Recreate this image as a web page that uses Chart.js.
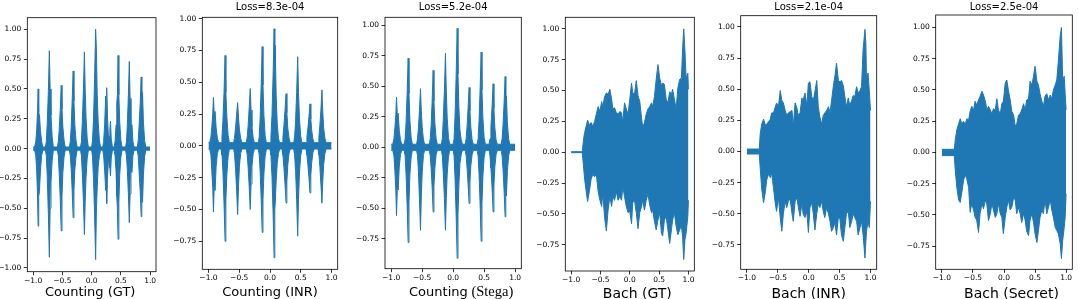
<!DOCTYPE html>
<html>
<head>
<meta charset="utf-8">
<script src="https://cdn.jsdelivr.net/npm/chart.js@4.4.1/dist/chart.umd.min.js"></script>
<style>
  body { margin: 0; background: #fff; width: 1078px; height: 299px; position: relative; overflow: hidden; }
  canvas { position: absolute; top: 0; }
</style>
</head>
<body>
<canvas id="p0"></canvas>
<canvas id="p1"></canvas>
<canvas id="p2"></canvas>
<canvas id="p3"></canvas>
<canvas id="p4"></canvas>
<canvas id="p5"></canvas>
<script>
// tick labels
const xTicks = [-1.0, -0.5, 0.0, 0.5, 1.0];
const yTicksFull = [-1.0, -0.75, -0.5, -0.25, 0.0, 0.25, 0.5, 0.75, 1.0];
const yTicksShort = [-0.75, -0.5, -0.25, 0.0, 0.25, 0.5, 0.75, 1.0];

const titles = [null, 'Loss=8.3e-04', 'Loss=5.2e-04', null, 'Loss=2.1e-04', 'Loss=2.5e-04'];

// waveform envelopes: time, upper edge, lower edge
const countGtX = [-1.00,
  -0.975,-0.955,-0.94,-0.925,-0.915,-0.905,-0.892,-0.875,-0.855,-0.835,
  -0.79,-0.775,-0.76,-0.74,-0.723,-0.71,-0.695,-0.675,-0.655,
  -0.585,-0.57,-0.555,-0.537,-0.52,-0.507,-0.492,-0.472,-0.452,
  -0.38,-0.365,-0.35,-0.333,-0.316,-0.303,-0.288,-0.268,-0.248,
  -0.19,-0.175,-0.16,-0.14,-0.124,-0.111,-0.096,-0.076,-0.056,
  0.0,0.015,0.032,0.05,0.068,0.08,0.095,0.112,0.132,0.152,
  0.19,0.205,0.222,0.24,0.248,0.257,0.27,0.285,0.30,0.312,0.322,0.335,0.355,
  0.385,0.40,0.418,0.43,0.44,0.452,0.465,0.48,0.50,0.52,
  0.58,0.595,0.61,0.628,0.644,0.657,0.672,0.689,0.705,0.725,
  0.78,0.795,0.81,0.83,0.847,0.858,0.87,0.885,0.905,0.925,
  1.00];
const countGtHi = [0.013,
  0.013,0.06,0.15,0.32,0.50,0.30,0.28,0.15,0.06,0.013,
  0.013,0.06,0.20,0.48,0.82,0.50,0.28,0.10,0.013,
  0.013,0.06,0.15,0.32,0.53,0.33,0.18,0.07,0.013,
  0.013,0.06,0.18,0.40,0.65,0.40,0.20,0.07,0.013,
  0.013,0.06,0.22,0.50,0.81,0.50,0.26,0.08,0.013,
  0.013,0.07,0.25,0.58,1.00,0.85,0.45,0.22,0.07,0.013,
  0.013,0.06,0.20,0.44,0.30,0.51,0.28,0.12,0.10,0.16,0.23,0.08,0.013,
  0.013,0.06,0.20,0.38,0.45,0.78,0.45,0.22,0.07,0.013,
  0.013,0.06,0.20,0.45,0.73,0.42,0.18,0.20,0.06,0.013,
  0.013,0.06,0.18,0.38,0.60,0.40,0.47,0.22,0.07,0.013,
  0.013];
const countGtLo = [-0.013,
  -0.013,-0.06,-0.18,-0.40,-0.65,-0.40,-0.36,-0.18,-0.06,-0.013,
  -0.013,-0.06,-0.22,-0.55,-0.91,-0.50,-0.28,-0.10,-0.013,
  -0.013,-0.06,-0.20,-0.42,-0.69,-0.40,-0.20,-0.07,-0.013,
  -0.013,-0.06,-0.17,-0.35,-0.58,-0.35,-0.18,-0.07,-0.013,
  -0.013,-0.06,-0.20,-0.45,-0.72,-0.45,-0.24,-0.08,-0.013,
  -0.013,-0.07,-0.25,-0.55,-0.93,-0.55,-0.32,-0.15,-0.06,-0.013,
  -0.013,-0.06,-0.18,-0.35,-0.30,-0.46,-0.25,-0.12,-0.10,-0.16,-0.23,-0.08,-0.013,
  -0.013,-0.06,-0.20,-0.40,-0.50,-0.76,-0.45,-0.22,-0.07,-0.013,
  -0.013,-0.06,-0.18,-0.38,-0.62,-0.38,-0.18,-0.20,-0.06,-0.013,
  -0.013,-0.06,-0.18,-0.36,-0.57,-0.38,-0.45,-0.22,-0.07,-0.013,
  -0.013];

const countInrX = [-1.00,
  -0.98,-0.96,-0.945,-0.93,-0.919,-0.905,-0.892,-0.875,-0.855,-0.835,
  -0.795,-0.78,-0.765,-0.747,-0.730,-0.717,-0.70,-0.68,-0.66,
  -0.59,-0.575,-0.56,-0.543,-0.526,-0.512,-0.497,-0.477,-0.457,
  -0.385,-0.37,-0.355,-0.338,-0.321,-0.308,-0.293,-0.273,-0.253,
  -0.19,-0.175,-0.16,-0.143,-0.127,-0.114,-0.099,-0.079,-0.059,
  0.0,0.015,0.032,0.05,0.067,0.078,0.085,0.10,0.117,0.137,0.157,
  0.195,0.21,0.226,0.244,0.261,0.274,0.289,0.309,0.329,
  0.385,0.40,0.416,0.433,0.450,0.463,0.478,0.498,0.518,
  0.585,0.60,0.616,0.633,0.650,0.663,0.678,0.698,0.718,
  0.78,0.795,0.81,0.827,0.844,0.857,0.872,0.892,0.912,
  1.00];
const countInrHi = [0.025,
  0.025,0.07,0.15,0.25,0.38,0.24,0.27,0.14,0.06,0.025,
  0.025,0.07,0.20,0.42,0.71,0.42,0.22,0.08,0.025,
  0.025,0.07,0.14,0.24,0.34,0.22,0.13,0.06,0.025,
  0.025,0.07,0.16,0.30,0.45,0.28,0.15,0.06,0.025,
  0.025,0.07,0.22,0.48,0.78,0.48,0.24,0.08,0.025,
  0.025,0.07,0.24,0.55,0.92,0.60,0.79,0.40,0.18,0.06,0.025,
  0.025,0.07,0.16,0.28,0.41,0.26,0.14,0.06,0.025,
  0.025,0.07,0.20,0.42,0.70,0.42,0.22,0.08,0.025,
  0.025,0.07,0.14,0.23,0.33,0.21,0.12,0.05,0.025,
  0.025,0.07,0.16,0.28,0.44,0.27,0.14,0.06,0.025,
  0.025];
const countInrLo = [-0.025,
  -0.025,-0.07,-0.20,-0.33,-0.52,-0.30,-0.35,-0.16,-0.06,-0.025,
  -0.025,-0.07,-0.20,-0.45,-0.75,-0.42,-0.22,-0.08,-0.025,
  -0.025,-0.07,-0.18,-0.34,-0.54,-0.32,-0.16,-0.06,-0.025,
  -0.025,-0.07,-0.17,-0.32,-0.50,-0.30,-0.16,-0.06,-0.025,
  -0.025,-0.07,-0.20,-0.42,-0.68,-0.42,-0.22,-0.08,-0.025,
  -0.025,-0.07,-0.24,-0.52,-0.88,-0.50,-0.45,-0.28,-0.14,-0.06,-0.025,
  -0.025,-0.07,-0.17,-0.30,-0.45,-0.28,-0.15,-0.06,-0.025,
  -0.025,-0.07,-0.20,-0.42,-0.71,-0.42,-0.22,-0.08,-0.025,
  -0.025,-0.07,-0.15,-0.25,-0.37,-0.23,-0.13,-0.05,-0.025,
  -0.025,-0.07,-0.16,-0.30,-0.45,-0.28,-0.15,-0.06,-0.025,
  -0.025];

const countStegaX = [-1.00,
  -0.975,-0.955,-0.94,-0.925,-0.914,-0.90,-0.887,-0.87,-0.85,-0.83,
  -0.79,-0.775,-0.76,-0.743,-0.726,-0.713,-0.698,-0.678,-0.658,
  -0.59,-0.575,-0.56,-0.544,-0.527,-0.514,-0.499,-0.479,-0.459,
  -0.385,-0.37,-0.355,-0.339,-0.323,-0.31,-0.295,-0.275,-0.255,
  -0.19,-0.175,-0.16,-0.141,-0.124,-0.111,-0.096,-0.076,-0.056,
  0.0,0.015,0.03,0.048,0.065,0.078,0.093,0.11,0.13,0.15,
  0.195,0.21,0.225,0.241,0.258,0.271,0.286,0.306,0.326,
  0.388,0.403,0.418,0.435,0.452,0.465,0.48,0.50,0.52,
  0.58,0.595,0.61,0.628,0.645,0.658,0.673,0.693,0.713,
  0.775,0.79,0.805,0.822,0.839,0.85,0.86,0.875,0.895,0.915,
  1.00];
const countStegaHi = [0.025,
  0.025,0.07,0.16,0.27,0.41,0.25,0.28,0.14,0.06,0.025,
  0.025,0.07,0.20,0.44,0.73,0.44,0.22,0.08,0.025,
  0.025,0.07,0.16,0.30,0.48,0.30,0.16,0.06,0.025,
  0.025,0.07,0.18,0.38,0.63,0.38,0.20,0.07,0.025,
  0.025,0.07,0.22,0.47,0.77,0.47,0.24,0.08,0.025,
  0.025,0.07,0.25,0.58,0.975,0.60,0.32,0.14,0.06,0.025,
  0.025,0.07,0.17,0.32,0.49,0.30,0.16,0.06,0.025,
  0.025,0.07,0.22,0.47,0.78,0.47,0.24,0.08,0.025,
  0.025,0.07,0.17,0.33,0.52,0.32,0.16,0.06,0.025,
  0.025,0.07,0.18,0.36,0.58,0.35,0.42,0.20,0.07,0.025,
  0.025];
const countStegaLo = [-0.025,
  -0.025,-0.07,-0.20,-0.35,-0.56,-0.32,-0.35,-0.16,-0.06,-0.025,
  -0.025,-0.07,-0.22,-0.47,-0.78,-0.45,-0.22,-0.08,-0.025,
  -0.025,-0.07,-0.20,-0.42,-0.68,-0.40,-0.20,-0.06,-0.025,
  -0.025,-0.07,-0.17,-0.33,-0.53,-0.32,-0.17,-0.06,-0.025,
  -0.025,-0.07,-0.20,-0.42,-0.68,-0.42,-0.22,-0.08,-0.025,
  -0.025,-0.07,-0.25,-0.55,-0.91,-0.55,-0.30,-0.13,-0.06,-0.025,
  -0.025,-0.07,-0.17,-0.30,-0.46,-0.28,-0.15,-0.06,-0.025,
  -0.025,-0.07,-0.22,-0.46,-0.77,-0.46,-0.24,-0.08,-0.025,
  -0.025,-0.07,-0.17,-0.33,-0.53,-0.32,-0.16,-0.06,-0.025,
  -0.025,-0.07,-0.18,-0.35,-0.57,-0.33,-0.40,-0.20,-0.07,-0.025,
  -0.025];

const bachGtX = [-1.00,-0.81,-0.79,-0.77,-0.74,-0.72,-0.69,-0.66,-0.63,-0.60,-0.57,-0.54,-0.51,-0.48,
  -0.46,-0.43,-0.40,-0.37,-0.34,-0.31,-0.29,-0.26,-0.23,-0.20,-0.17,-0.14,-0.12,-0.09,-0.06,-0.03,
  0.00,0.03,0.05,0.08,0.11,0.14,0.17,0.20,0.22,0.25,0.28,0.31,0.34,0.37,0.39,0.42,0.45,0.48,
  0.51,0.54,0.56,0.59,0.62,0.65,0.68,0.71,0.73,0.76,0.79,0.82,0.85,0.88,0.90,0.92,0.94,0.96,0.99,1.00];
const bachGtHi = [0.004,0.004,0.10,0.16,0.22,0.26,0.22,0.24,0.21,0.25,0.31,0.37,0.33,0.41,
  0.37,0.45,0.48,0.47,0.51,0.43,0.35,0.36,0.32,0.31,0.33,0.32,0.24,0.40,0.35,0.31,
  0.43,0.56,0.48,0.47,0.58,0.46,0.41,0.28,0.20,0.24,0.31,0.35,0.37,0.40,0.37,0.45,0.59,0.71,
  0.60,0.54,0.56,0.55,0.43,0.40,0.49,0.47,0.51,0.43,0.35,0.52,0.59,0.60,0.83,1.00,0.83,0.60,0.64,0.51];
const bachGtLo = [-0.004,-0.004,-0.11,-0.22,-0.33,-0.40,-0.32,-0.22,-0.18,-0.20,-0.18,-0.32,-0.39,-0.44,
  -0.33,-0.53,-0.64,-0.47,-0.36,-0.44,-0.36,-0.39,-0.32,-0.39,-0.36,-0.39,-0.28,-0.36,-0.44,-0.49,
  -0.48,-0.58,-0.41,-0.39,-0.49,-0.62,-0.49,-0.44,-0.39,-0.47,-0.39,-0.34,-0.43,-0.49,-0.47,-0.56,-0.63,-0.55,
  -0.49,-0.66,-0.68,-0.55,-0.52,-0.63,-0.74,-0.63,-0.55,-0.49,-0.60,-0.67,-0.63,-0.60,-0.68,-0.87,-0.71,-0.66,-0.52,-0.39];

const bachInrX = [-1.00,-0.80,-0.785,-0.76,-0.73,-0.70,-0.68,-0.65,-0.62,-0.60,-0.57,-0.54,-0.52,-0.49,
  -0.46,-0.435,-0.41,-0.38,-0.355,-0.33,-0.30,-0.27,-0.25,-0.22,-0.19,-0.17,-0.14,-0.11,-0.09,-0.06,
  -0.03,-0.005,0.02,0.05,0.075,0.10,0.13,0.155,0.18,0.21,0.235,0.26,0.29,0.32,0.345,0.37,0.40,
  0.425,0.45,0.48,0.505,0.53,0.56,0.585,0.61,0.64,0.665,0.695,0.72,0.745,0.775,0.80,0.83,0.855,
  0.88,0.91,0.925,0.935,0.96,0.98,1.00];
const bachInrHi = [0.02,0.02,0.14,0.22,0.26,0.21,0.22,0.24,0.26,0.31,0.31,0.36,0.39,0.36,
  0.49,0.41,0.39,0.33,0.29,0.31,0.32,0.33,0.20,0.39,0.35,0.29,0.31,0.43,0.41,0.47,
  0.37,0.55,0.56,0.44,0.41,0.48,0.57,0.36,0.28,0.22,0.29,0.31,0.33,0.36,0.31,0.41,0.53,
  0.61,0.71,0.57,0.56,0.57,0.53,0.44,0.36,0.43,0.37,0.41,0.45,0.44,0.52,0.47,0.49,0.52,
  0.82,0.98,0.87,0.57,0.63,0.49,0.33];
const bachInrLo = [-0.02,-0.02,-0.13,-0.30,-0.41,-0.32,-0.23,-0.18,-0.21,-0.17,-0.29,-0.42,-0.48,-0.37,
  -0.53,-0.64,-0.50,-0.40,-0.45,-0.40,-0.38,-0.50,-0.56,-0.40,-0.37,-0.44,-0.52,-0.42,-0.50,-0.53,
  -0.48,-0.65,-0.45,-0.41,-0.50,-0.63,-0.50,-0.42,-0.45,-0.40,-0.48,-0.53,-0.45,-0.50,-0.56,-0.64,-0.61,
  -0.57,-0.67,-0.53,-0.54,-0.67,-0.72,-0.61,-0.50,-0.48,-0.61,-0.56,-0.50,-0.53,-0.56,-0.67,-0.61,-0.56,
  -0.67,-0.855,-0.72,-0.64,-0.56,-0.61,-0.40];

const bachSecretX = [-1.00,-0.80,-0.785,-0.76,-0.73,-0.705,-0.68,-0.65,-0.625,-0.60,-0.57,-0.545,-0.52,-0.49,
  -0.465,-0.44,-0.41,-0.385,-0.355,-0.33,-0.30,-0.275,-0.25,-0.22,-0.195,-0.17,-0.14,-0.115,-0.09,-0.06,
  -0.035,-0.01,0.02,0.045,0.07,0.10,0.125,0.155,0.18,0.205,0.235,0.26,0.285,0.315,0.34,0.365,0.395,
  0.42,0.45,0.475,0.50,0.53,0.555,0.58,0.61,0.635,0.66,0.69,0.715,0.745,0.77,0.795,0.825,0.85,
  0.875,0.905,0.925,0.945,0.97,0.985,1.00];
const bachSecretHi = [0.025,0.025,0.10,0.18,0.23,0.27,0.23,0.25,0.22,0.27,0.26,0.33,0.37,0.34,
  0.41,0.38,0.42,0.45,0.49,0.46,0.41,0.34,0.37,0.34,0.31,0.35,0.34,0.43,0.34,0.31,
  0.39,0.41,0.555,0.58,0.50,0.42,0.33,0.30,0.21,0.23,0.30,0.31,0.34,0.39,0.34,0.42,0.43,
  0.57,0.54,0.61,0.69,0.57,0.54,0.47,0.41,0.37,0.45,0.47,0.42,0.46,0.43,0.50,0.54,0.58,
  0.73,0.93,1.00,0.58,0.61,0.47,0.34];
const bachSecretLo = [-0.025,-0.025,-0.14,-0.28,-0.38,-0.40,-0.32,-0.22,-0.18,-0.21,-0.28,-0.48,-0.41,-0.46,
  -0.52,-0.54,-0.64,-0.49,-0.41,-0.45,-0.38,-0.42,-0.545,-0.49,-0.41,-0.46,-0.52,-0.49,-0.41,-0.49,
  -0.52,-0.65,-0.52,-0.44,-0.38,-0.46,-0.44,-0.36,-0.38,-0.49,-0.44,-0.49,-0.56,-0.49,-0.54,-0.63,-0.665,
  -0.54,-0.49,-0.56,-0.65,-0.72,-0.625,-0.52,-0.46,-0.49,-0.38,-0.49,-0.44,-0.38,-0.46,-0.52,-0.60,-0.625,
  -0.65,-0.73,-0.85,-0.705,-0.60,-0.52,-0.33];

const blue = '#1f77b4';
const sans = "'DejaVu Sans', sans-serif";

const panels = [
  { id: 'p0', x: countGtX, hi: countGtHi, lo: countGtLo, area: [27.3, 17.7, 156, 271.7], y: [-1.0315, 1.0965],
    yTicks: yTicksFull, label: [['Counting (GT)', '13px ' + sans]], base: 295.5, dx: -1.5 },
  { id: 'p1', x: countInrX, hi: countInrHi, lo: countInrLo, area: [202.3, 17.3, 337.7, 269.3], y: [-0.97, 1.01],
    yTicks: yTicksShort, label: [['Counting (INR)', '13px ' + sans]], base: 295.5, dx: 0 },
  { id: 'p2', x: countStegaX, hi: countStegaHi, lo: countStegaLo, area: [385, 17.3, 521.3, 268.7], y: [-0.995, 1.065],
    yTicks: yTicksShort, label: [['Counting', '13px ' + sans], [' (Stega)', "14.5px 'Liberation Serif', serif"]], base: 295.5, dx: 8 },
  { id: 'p3', x: bachGtX, hi: bachGtHi, lo: bachGtLo, area: [565.3, 17.3, 694.3, 271], y: [-0.9635, 1.0935],
    yTicks: yTicksShort, label: [['Bach (GT)', '14px ' + sans]], base: 297.5, dx: 7.5 },
  { id: 'p4', x: bachInrX, hi: bachInrHi, lo: bachInrLo, area: [740.7, 15.7, 876.7, 269.3], y: [-0.945, 1.09],
    yTicks: yTicksShort, label: [['Bach (INR)', '14px ' + sans]], base: 297.5, dx: 0 },
  { id: 'p5', x: bachSecretX, hi: bachSecretHi, lo: bachSecretLo, area: [935.7, 15, 1072.3, 269.3], y: [-0.935, 1.10],
    yTicks: yTicksShort, label: [['Bach (Secret)', '14px ' + sans]], base: 297.5, dx: 7.5 }
];

function fmt(v, d) {
  return (v < -1e-9 ? '\u2212' : '') + Math.abs(v).toFixed(d);
}

// black box round the plot area, like matplotlib spines
const frame = {
  id: 'frame',
  afterDraw(chart) {
    const { ctx, chartArea: a } = chart;
    ctx.save();
    ctx.strokeStyle = '#000';
    ctx.lineWidth = 0.8;
    ctx.strokeRect(a.left, a.top, a.right - a.left, a.bottom - a.top);
    ctx.restore();
  }
};

// x label, possibly made of parts in different fonts
const xLabel = {
  id: 'xLabel',
  afterDraw(chart, args, opts) {
    const { ctx, chartArea: a } = chart;
    ctx.save();
    ctx.fillStyle = '#000';
    ctx.textBaseline = 'alphabetic';
    ctx.textAlign = 'left';
    let total = 0;
    const widths = opts.parts.map(p => { ctx.font = p[1]; const w = ctx.measureText(p[0]).width; total += w; return w; });
    let x = (a.left + a.right) / 2 + opts.dx - total / 2;
    opts.parts.forEach((p, i) => { ctx.font = p[1]; ctx.fillText(p[0], x, opts.base); x += widths[i]; });
    ctx.restore();
  }
};

Chart.defaults.font.family = sans;

panels.forEach((p, k) => {
  const cv = document.getElementById(p.id);
  const left = Math.floor(p.area[0]) - 42;
  const w = Math.ceil(p.area[2]) + 6 - left;
  cv.width = w;
  cv.height = 299;
  cv.style.left = left + 'px';
  const yW = p.area[0] - left;
  const padRight = w - (p.area[2] - left);
  const title = titles[k];

  new Chart(cv, {
    type: 'line',
    data: {
      datasets: [
        { data: p.x.map((v, i) => ({ x: v, y: p.hi[i] })), borderColor: blue, backgroundColor: blue,
          borderWidth: 1, pointRadius: 0, fill: '+1', tension: 0 },
        { data: p.x.map((v, i) => ({ x: v, y: p.lo[i] })), borderColor: blue, backgroundColor: blue,
          borderWidth: 1, pointRadius: 0, fill: false, tension: 0 }
      ]
    },
    options: {
      responsive: false,
      animation: false,
      events: [],
      layout: { padding: { top: title ? 0 : p.area[1], right: padRight, left: 0, bottom: 0 } },
      plugins: {
        legend: { display: false },
        tooltip: { enabled: false },
        title: {
          display: !!title,
          text: title || '',
          fullSize: false,
          color: '#000',
          font: { family: sans, size: 10, weight: 'normal', lineHeight: 1.2 },
          padding: { top: 1.5, bottom: p.area[1] - 13.5 }
        },
        xLabel: { parts: p.label, base: p.base, dx: p.dx }
      },
      scales: {
        x: {
          type: 'linear',
          min: -1.1,
          max: 1.1,
          afterFit: s => { s.height = 299 - p.area[3]; },
          afterBuildTicks: s => { s.ticks = xTicks.map(v => ({ value: v })); },
          ticks: { callback: v => fmt(v, 1), color: '#000', font: { size: 7.5 }, padding: 1, maxRotation: 0, autoSkip: false },
          grid: { drawOnChartArea: false, drawTicks: true, tickLength: 3.5, color: '#000', lineWidth: 0.8 },
          border: { display: false }
        },
        y: {
          type: 'linear',
          min: p.y[0],
          max: p.y[1],
          afterFit: s => { s.width = yW; },
          afterBuildTicks: s => { s.ticks = p.yTicks.map(v => ({ value: v })); },
          ticks: { callback: v => fmt(v, 2), color: '#000', font: { size: 7.5 }, padding: 2.5, autoSkip: false },
          grid: { drawOnChartArea: false, drawTicks: true, tickLength: 3.5, color: '#000', lineWidth: 0.8 },
          border: { display: false }
        }
      }
    },
    plugins: [frame, xLabel]
  });
});
</script>
</body>
</html>
